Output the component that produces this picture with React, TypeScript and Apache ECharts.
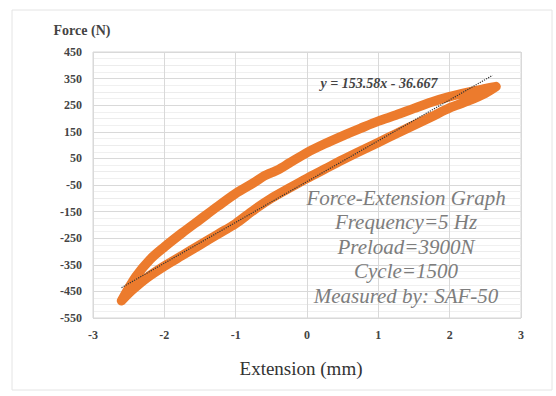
import React, { useEffect, useRef } from "react";
import * as echarts from "echarts";

const FONT = "Liberation Serif, Times New Roman, DejaVu Serif, serif";

// Loading branch (upper curve), left -> right
const upperX = [-2.6, -2.4, -2.2, -2.0, -1.75, -1.5, -1.25, -1.0, -0.75, -0.6, -0.5, -0.4, -0.25, 0.0, 0.25, 0.5, 0.75, 1.0, 1.25, 1.5, 1.75, 2.0, 2.25, 2.5, 2.65];
const upperY = [-485, -395, -330, -283, -230, -180, -130, -82, -42, -16, -4, 8, 32, 72, 105, 135, 163, 190, 213, 238, 262, 282, 298, 312, 320];
// Unloading branch (lower curve), right -> left
const lowerX = [2.65, 2.5, 2.25, 2.0, 1.75, 1.5, 1.25, 1.0, 0.75, 0.5, 0.25, 0.0, -0.25, -0.5, -0.75, -1.0, -1.25, -1.5, -1.75, -2.0, -2.25, -2.45, -2.6];
const lowerY = [318, 295, 265, 240, 207, 175, 143, 110, 78, 45, 10, -25, -62, -100, -145, -195, -235, -275, -315, -355, -400, -445, -485];
// Linear trend line end points
const trendX = [-2.6, 2.6];
const trendY = [-436, 362];

const equationText = "y = 153.58x - 36.667";
const noteLines = ["Force-Extension Graph", "Frequency=5 Hz", "Preload=3900N", "Cycle=1500", "Measured by: SAF-50"];
const yTitle = "Force (N)";
const xTitle = "Extension (mm)";

export default function App() {
  const ref = useRef<HTMLDivElement>(null);
  useEffect(() => {
    if (!ref.current) return;
    const chart = echarts.init(ref.current, null, { renderer: "svg" });
    const loop: number[][] = [];
    upperX.forEach((x, i) => loop.push([x, upperY[i]]));
    lowerX.forEach((x, i) => loop.push([x, lowerY[i]]));
    const trend = trendX.map((x, i) => [x, trendY[i]]);

    const txt = (text: string, x: number, y: number, size: number, weight: string, style: string, fill: string) => ({
      type: "text",
      x,
      y,
      z: 10,
      style: { text, fontFamily: FONT, fontSize: size, fontWeight: weight, fontStyle: style, fill, align: "center", verticalAlign: "middle" },
    });

    chart.setOption({
      animation: false,
      backgroundColor: "#ffffff",
      grid: { left: 93, right: 35, top: 52, bottom: 78, show: true, borderColor: "#d6d6d6", borderWidth: 1 },
      xAxis: {
        type: "value",
        min: -3,
        max: 3,
        interval: 1,
        axisLine: { show: false },
        axisTick: { show: false },
        axisLabel: { color: "#444", fontFamily: FONT, fontSize: 12, fontWeight: "bold", margin: 11 },
        splitLine: { show: true, lineStyle: { color: "#d9d9d9", width: 1 } },
      },
      yAxis: {
        type: "value",
        min: -550,
        max: 450,
        interval: 50,
        axisLine: { show: false },
        axisTick: { show: false },
        axisLabel: {
          color: "#444",
          fontFamily: FONT,
          fontSize: 12,
          fontWeight: "bold",
          margin: 11,
          formatter: (v: number) => ((Math.round(v) + 550) % 100 === 0 ? String(Math.round(v)) : ""),
        },
        splitLine: { show: true, lineStyle: { color: ["#d9d9d9", "#ececec"], width: 1 } },
        minorTick: { show: false, splitNumber: 2 },
        minorSplitLine: { show: true, lineStyle: { color: "#f0f0f0", width: 1 } },
      },
      series: [
        {
          type: "line",
          data: loop,
          smooth: 0.3,
          showSymbol: false,
          lineStyle: { color: "#EC7B2D", width: 9.5, cap: "round", join: "round" },
          z: 2,
        },
        {
          type: "line",
          data: trend,
          showSymbol: false,
          lineStyle: { color: "#333333", width: 1.2, type: "dotted" },
          z: 3,
        },
      ],
      graphic: [
        { type: "rect", shape: { x: 12, y: 10, width: 540, height: 380 }, style: { fill: "none", stroke: "#e4e4e4", lineWidth: 1 }, silent: true },
        txt(yTitle, 82, 30, 14, "bold", "normal", "#444"),
        txt(xTitle, 301, 368, 19, "normal", "normal", "#333"),
        txt(equationText, 379, 83, 14, "bold", "italic", "#444"),
        ...noteLines.map((t, i) => txt(t, 406, 198 + i * 24.4, 21, "normal", "italic", "#7d7d7d")),
      ],
    });
    return () => chart.dispose();
  }, []);
  return <div ref={ref} style={{ position: "absolute", left: 0, top: 0, width: 556, height: 396 }} />;
}
